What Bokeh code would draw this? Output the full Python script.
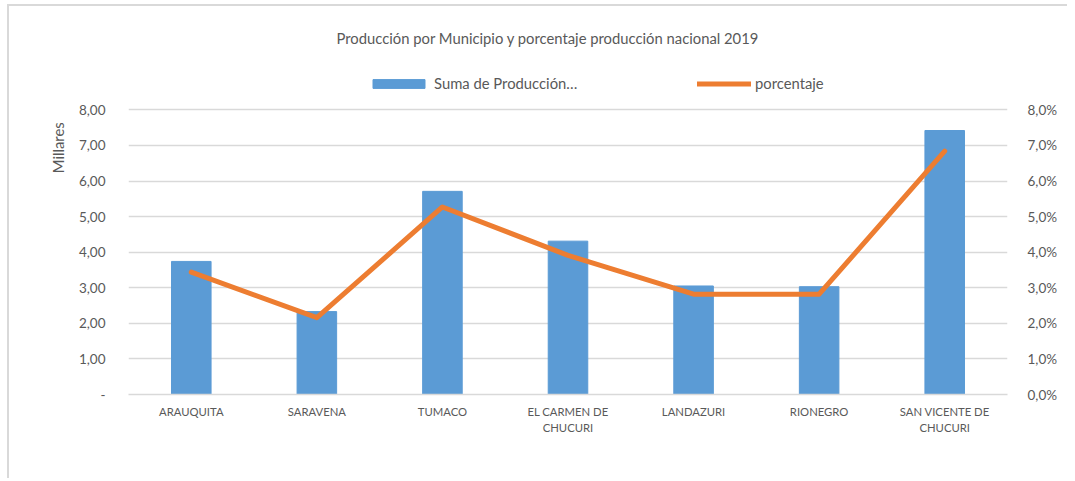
from bokeh.plotting import figure
from bokeh.models import (LinearAxis, CategoricalAxis, Range1d, FactorRange, FixedTicker,
                          Legend, LegendItem, Title, ColumnDataSource, CustomJSTickFormatter)
from bokeh.embed import file_html
from bokeh.resources import INLINE

# ---- data ----
municipios = ["ARAUQUITA", "SARAVENA", "TUMACO", "EL CARMEN DE CHUCURI",
              "LANDAZURI", "RIONEGRO", "SAN VICENTE DE CHUCURI"]
produccion_miles = [3.74, 2.33, 5.71, 4.31, 3.05, 3.03, 7.42]
porcentaje = [3.44, 2.16, 5.27, 3.91, 2.82, 2.82, 6.84]

left_ticks = [0, 1, 2, 3, 4, 5, 6, 7, 8]
left_tick_labels = ["-", "1,00", "2,00", "3,00", "4,00", "5,00", "6,00", "7,00", "8,00"]
right_ticks = [0, 1, 2, 3, 4, 5, 6, 7, 8]
right_tick_labels = ["0,0%", "1,0%", "2,0%", "3,0%", "4,0%", "5,0%", "6,0%", "7,0%", "8,0%"]
# category labels, split in two lines
label_line1 = ["ARAUQUITA", "SARAVENA", "TUMACO", "EL CARMEN DE",
               "LANDAZURI", "RIONEGRO", "SAN VICENTE DE"]
label_line2 = ["", "", "", "CHUCURI", "", "", "CHUCURI"]

titulo = "Producción por Municipio y porcentaje producción nacional 2019"
serie_barras = "Suma de Producción…"
serie_linea = "porcentaje"
unidad = "Millares"

FONT = "Lato"
TXT = "#595959"
GRID = "#D9D9D9"
BLUE = "#5B9BD5"
ORANGE = "#ED7D31"

# the frame reaches above the 8,00 gridline so that the legend row fits inside it
Y_TOP = 9.5

src = ColumnDataSource(dict(m=municipios, v=produccion_miles, p=porcentaje))

p = figure(width=1060, height=474, x_range=FactorRange(*municipios),
           y_range=Range1d(0, Y_TOP), output_backend="svg", toolbar_location=None,
           min_border_left=119, min_border_right=62, min_border_top=50,
           min_border_bottom=86, outline_line_color=None)
p.styles = {"border-left": "2px solid #D9D9D9", "border-top": "2px solid #D9D9D9",
            "margin-left": "7px", "margin-top": "4px"}
p.extra_y_ranges = {"pct": Range1d(0, Y_TOP)}

bars = p.vbar(x="m", top="v", width=0.315, source=src, fill_color=BLUE,
              line_color=BLUE)
line = p.line(x="m", y="p", source=src, y_range_name="pct", line_color=ORANGE,
              line_width=5, line_join="round", line_cap="round")

# grid
p.xgrid.grid_line_color = None
p.ygrid.grid_line_color = GRID
p.ygrid.grid_line_width = 1.5
p.ygrid.ticker = FixedTicker(ticks=left_ticks)


def style_axis(ax, size="13.5px"):
    ax.axis_line_color = None
    ax.major_tick_line_color = None
    ax.minor_tick_line_color = None
    ax.major_label_text_font = FONT
    ax.major_label_text_font_size = size
    ax.major_label_text_color = TXT


# left axis
ya = p.yaxis[0]
ya.ticker = FixedTicker(ticks=left_ticks)
ya.major_label_overrides = dict(zip(left_ticks, left_tick_labels))
style_axis(ya)
ya.major_label_standoff = 17

# unit label axis ("Millares"); leading em-spaces push the word towards the top
ua = LinearAxis(ticker=FixedTicker(ticks=[]), axis_label="\u2003" * 14 + unidad)
style_axis(ua)
ua.axis_label_text_font = FONT
ua.axis_label_text_font_size = "14.8px"
ua.axis_label_text_font_style = "normal"
ua.axis_label_text_color = TXT
ua.axis_label_standoff = 9
p.add_layout(ua, "left")

# right axis
ra = LinearAxis(y_range_name="pct", ticker=FixedTicker(ticks=right_ticks))
ra.major_label_overrides = dict(zip(right_ticks, right_tick_labels))
style_axis(ra)
ra.major_label_standoff = 14
p.add_layout(ra, "right")

JS = "const i = f.indexOf(tick); return i >= 0 ? l[i] : tick;"

# category axis (first line)
xa = p.xaxis[0]
style_axis(xa, "11.3px")
xa.axis_line_color = GRID
xa.axis_line_width = 1.5
xa.formatter = CustomJSTickFormatter(args=dict(f=municipios, l=label_line1), code=JS)
xa.major_label_standoff = 4

# category axis (second line)
xb = CategoricalAxis()
style_axis(xb, "11.3px")
xb.formatter = CustomJSTickFormatter(args=dict(f=municipios, l=label_line2), code=JS)
xb.major_label_standoff = -6
p.add_layout(xb, "below")

# legends (one per series) in the top strip of the frame
common = dict(orientation="horizontal", border_line_color=None,
              background_fill_alpha=0, padding=0, margin=0,
              label_text_font=FONT, label_text_font_size="14.8px",
              label_text_color=TXT, glyph_height=11)
leg1 = Legend(items=[LegendItem(label=serie_barras, renderers=[bars])],
              glyph_width=65, label_standoff=3, location=(238, 302), **common)
leg2 = Legend(items=[LegendItem(label=serie_linea, renderers=[line])],
              glyph_width=54, label_standoff=4, location=(569, 302), **common)
p.add_layout(leg1)
p.add_layout(leg2)

t = Title(text=titulo, align="left", offset=208, text_font=FONT,
          text_font_size="14.8px", text_font_style="normal", text_color=TXT,
          standoff=19)
p.add_layout(t, "above")

open("out.html", "w").write(file_html(p, INLINE))
